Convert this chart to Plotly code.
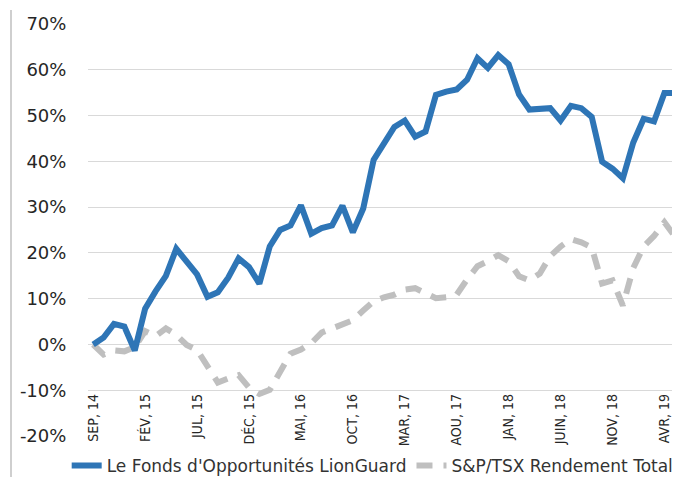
import plotly.graph_objects as go

# ---- data (values in %) ----
month_abbr = ["JAN", "FÉV", "MAR", "AVR", "MAI", "JUIN", "JUL", "AOU", "SEP", "OCT", "NOV", "DÉC"]
start_month_index = 8   # SEP
start_year = 14

fund = [0.0, 1.5, 4.5, 3.9, -1.3, 7.8, 11.6, 15.0, 20.9, 18.3,
        15.3, 10.4, 11.4, 14.6, 18.8, 16.9, 13.3, 21.4, 25.0, 26.0,
        30.4, 24.2, 25.4, 26.0, 30.3, 24.5, 29.7, 40.3, 44.0, 47.5,
        48.9, 45.4, 46.5, 54.5, 55.2, 55.7, 57.8, 62.5, 60.4, 63.2,
        61.2, 54.6, 51.3, 51.6, 51.6, 48.9, 52.1, 51.6, 49.7, 39.9,
        38.4, 36.3, 44.1, 49.3, 48.7, 54.9, 54.9]

tsx = [0.0, -2.2, -1.3, -1.5, -0.6, 2.9, 1.8, 3.5, 2.1, -0.1,
       -1.2, -4.8, -8.3, -7.4, -6.7, -9.4, -10.8, -9.9, -5.7, -2.0,
       -1.1, 0.3, 2.6, 3.5, 4.2, 5.3, 7.4, 9.4, 10.3, 10.9,
       12.0, 12.3, 11.2, 10.1, 10.3, 10.9, 14.2, 17.1, 18.2, 19.5,
       18.2, 14.9, 14.0, 15.5, 19.3, 21.4, 23.0, 22.3, 21.2, 13.3,
       14.0, 8.5, 16.7, 21.4, 23.7, 26.7, 23.6]

fund_name = "Le Fonds d'Opportunités LionGuard"
tsx_name = "S&P/TSX Rendement Total"

y_ticks = [-20, -10, 0, 10, 20, 30, 40, 50, 60, 70]
y_ticktext = [f"{v}%" for v in y_ticks]

categories = []
for k in range(len(fund)):
    m = (start_month_index + k) % 12
    yr = start_year + (start_month_index + k) // 12
    categories.append(f"{month_abbr[m]}, {yr}")
x_tickvals = categories[::5]

# ---- figure ----
# page body has an 8px default margin, so the figure is 8px smaller than the window
W, H = 672, 469
ML, MR, MT, MB = 80, 0, 15, 40
PW, PH = W - ML - MR, H - MT - MB
y_range = [-20.2, 70.2]

fig = go.Figure()
fig.add_trace(go.Scatter(x=categories, y=tsx, name=tsx_name, mode="lines",
                         line=dict(color="#BFBFBF", width=6, dash="16px,11px")))
fig.add_trace(go.Scatter(x=categories, y=fund, name=fund_name, mode="lines",
                         line=dict(color="#2E75B6", width=6)))

axis_pos = (-10 - y_range[0]) / (y_range[1] - y_range[0])

fig.update_layout(
    width=W, height=H,
    margin=dict(l=ML, r=MR, t=MT, b=MB, autoexpand=False),
    paper_bgcolor="white", plot_bgcolor="white",
    showlegend=True,
    legend=dict(orientation="h", x=-0.036, xanchor="left", y=-0.070, yanchor="middle",
                traceorder="reversed",
                font=dict(family="DejaVu Sans", size=17, color="#333333"),
                bgcolor="rgba(0,0,0,0)", itemwidth=30),
    xaxis=dict(type="category", categoryorder="array", categoryarray=categories,
               range=[-0.5, len(categories) - 0.5],
               tickmode="array", tickvals=x_tickvals, ticktext=x_tickvals,
               tickangle=-90, showgrid=False, showline=False, zeroline=False,
               ticks="", anchor="free", position=axis_pos, automargin=False,
               tickfont=dict(family="Liberation Sans Narrow, DejaVu Sans Condensed, Liberation Sans",
                             size=14, color="#262626")),
    yaxis=dict(range=y_range, tickmode="array", tickvals=y_ticks, ticktext=y_ticktext,
               showgrid=True, gridcolor="#D9D9D9", gridwidth=1.3,
               zeroline=False, showline=False, automargin=False,
               ticks="outside", ticklen=17, tickcolor="rgba(0,0,0,0)",
               tickfont=dict(family="DejaVu Sans", size=18, color="#262626")),
)

# thin grey border line at the far left of the picture
fig.add_shape(type="line", xref="paper", yref="paper",
              x0=(3 - ML) / PW, x1=(3 - ML) / PW,
              y0=(H - MB - H) / PH, y1=(H - MB - 2) / PH,
              line=dict(color="#BFBFBF", width=1.5))

fig.write_html("out.html")
